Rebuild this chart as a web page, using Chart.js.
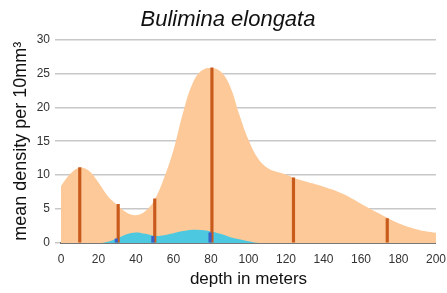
<!DOCTYPE html>
<html>
<head>
<meta charset="utf-8">
<script src="https://cdn.jsdelivr.net/npm/chart.js@4.4.1/dist/chart.umd.min.js"></script>
<style>
    html, body { margin: 0; padding: 0; background: #fff; }
    #wrap { width: 447px; height: 293px; }
</style>
</head>
<body>
<div id="wrap"><canvas id="density-chart"></canvas></div>
<script>
    "use strict";

    // Total density profile (smoothed)
    var totalDepth = [0, 5, 10, 15, 20, 25, 30, 35, 40, 45, 50, 55, 60, 65, 70, 75, 80, 85, 90, 95, 100, 105, 110, 115, 120, 125, 130, 140, 150, 160, 170, 180, 190, 200];
    var totalDensity = [8.4, 10.2, 11.1, 10.6, 8.9, 6.9, 5.6, 4.5, 4.1, 4.7, 6.4, 9.6, 13.7, 19.1, 23.4, 25.4, 25.8, 25.3, 23.2, 19.0, 15.2, 12.5, 11.1, 10.5, 10.1, 9.5, 9.1, 8.3, 7.3, 5.8, 4.3, 2.9, 2.0, 1.5];

    // Living fraction profile
    var liveDepth = [0, 20, 25, 30, 35, 40, 45, 50, 55, 60, 65, 70, 75, 80, 85, 90, 95, 100, 106, 200];
    var liveDensity = [0, 0, 0.2, 0.7, 1.3, 1.55, 1.35, 1.05, 1.15, 1.45, 1.75, 1.95, 1.9, 1.7, 1.35, 0.9, 0.55, 0.25, 0, 0];

    // Sample stations
    var sampleDepth = [10, 30.5, 50, 80.5, 124, 174];
    var sampleDensity = [11.1, 5.7, 6.5, 25.8, 9.6, 3.6];
    var liveSampleDepth = [29.5, 49, 79.5];
    var liveSampleDensity = [0.6, 1.0, 1.5];

    var xTicks = [0, 20, 40, 60, 80, 100, 120, 140, 160, 180, 200];

    function pts(xs, ys) {
        return xs.map(function (x, i) { return {x: x, y: ys[i]}; });
    }

    Chart.defaults.font.family = "'Liberation Sans', Arial, sans-serif";
    Chart.defaults.color = "#333";

    var ctx = document.getElementById("density-chart").getContext("2d");
    var myChart = new Chart(ctx, {
        type: "line",
        data: {
            datasets: [{
                    label: "total",
                    data: pts(totalDepth, totalDensity),
                    backgroundColor: "#fdc998",
                    borderWidth: 0,
                    pointRadius: 0,
                    fill: "origin",
                    tension: 0.4,
                    order: 4
                },
                {
                    label: "live",
                    data: pts(liveDepth, liveDensity),
                    backgroundColor: "#4cc9e0",
                    borderWidth: 0,
                    pointRadius: 0,
                    fill: "origin",
                    tension: 0.4,
                    order: 3
                },
                {
                    type: "bar",
                    label: "samples",
                    data: pts(sampleDepth, sampleDensity),
                    backgroundColor: "#c85a1c",
                    barThickness: 2.5,
                    grouped: false,
                    order: 2
                },
                {
                    type: "bar",
                    label: "live samples",
                    data: pts(liveSampleDepth, liveSampleDensity),
                    backgroundColor: "#3b5fc8",
                    barThickness: 2.5,
                    grouped: false,
                    order: 1
                }
            ]
        },
        options: {
            responsive: true,
            maintainAspectRatio: false,
            animation: false,
            layout: {padding: {left: 16, right: 7, top: 0, bottom: 0}},
            plugins: {
                legend: {display: false},
                tooltip: {enabled: false},
                title: {
                    display: true,
                    text: "Bulimina elongata",
                    color: "#111",
                    font: {size: 22, style: "italic", weight: "normal"},
                    padding: {top: 7, bottom: 6}
                }
            },
            scales: {
                x: {
                    type: "linear",
                    min: 0,
                    max: 200,
                    offset: false,
                    afterBuildTicks: function (s) {
                        s.ticks = xTicks.map(function (v) { return {value: v}; });
                    },
                    afterFit: function (s) { s.height = 50; },
                    grid: {display: false},
                    border: {display: true, color: "#777", width: 2},
                    ticks: {font: {size: 12}, color: "#333", padding: 1, maxRotation: 0},
                    title: {display: true, text: "depth in meters", color: "#111", font: {size: 17}, padding: {top: 0, bottom: 3}}
                },
                y: {
                    min: 0,
                    max: 30,
                    afterFit: function (s) { s.width = 45; },
                    ticks: {stepSize: 5, font: {size: 12}, color: "#333", padding: 5},
                    grid: {color: "#c8c8c8", lineWidth: 1.5, tickLength: 6},
                    border: {display: false},
                    title: {display: true, text: "mean density per 10mm³", color: "#111", font: {size: 18}, padding: {top: -6, bottom: 0}}
                }
            }
        }
    });
</script>
</body>
</html>
